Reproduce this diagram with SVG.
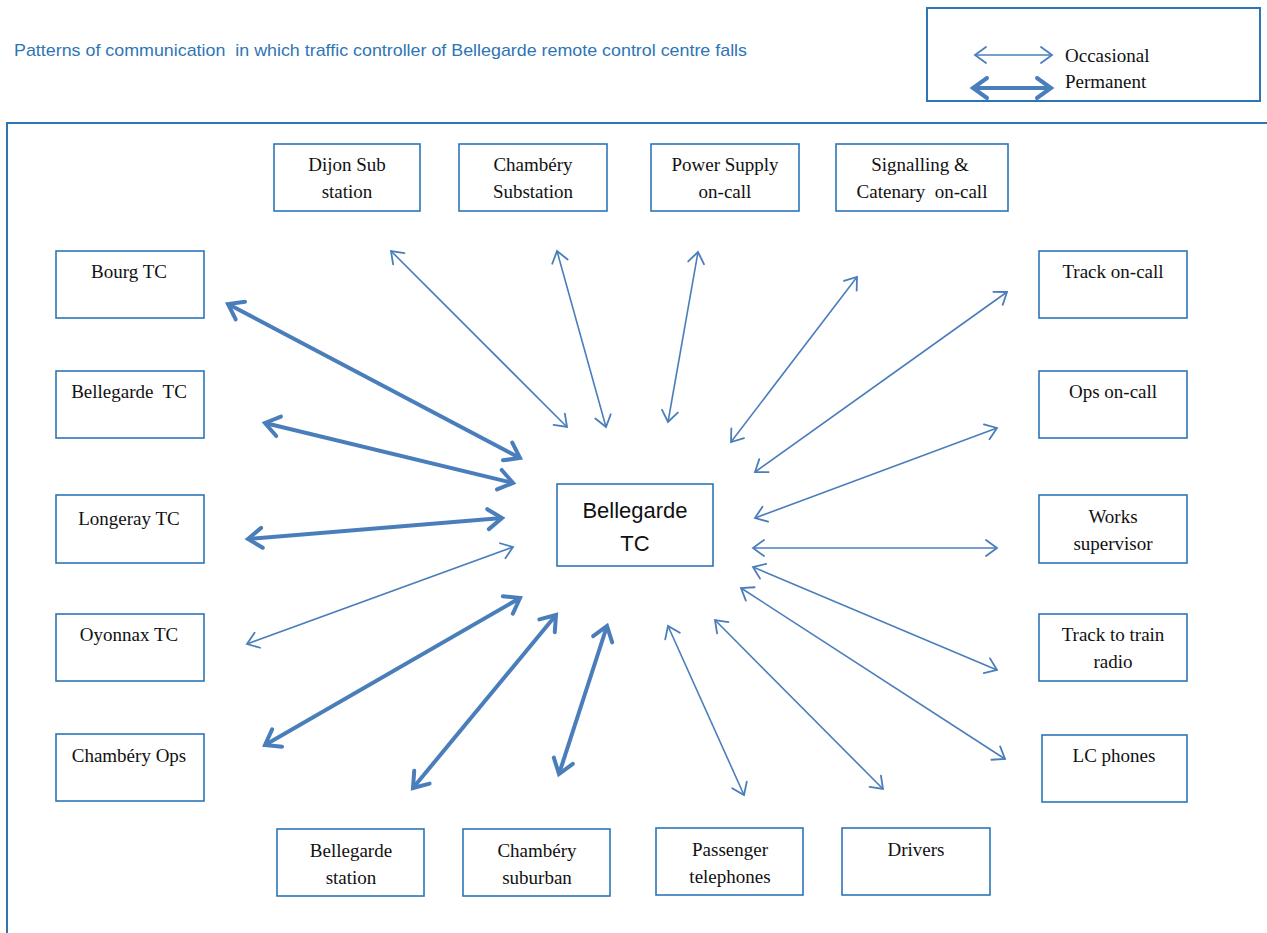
<svg xmlns="http://www.w3.org/2000/svg" width="1267" height="933" viewBox="0 0 1267 933">
<style>
text{white-space:pre}
.node rect{fill:#fff;stroke:#2E75B6;stroke-width:1.6}
.node text{font-family:"Liberation Serif",serif;font-size:19px;fill:#111;text-anchor:middle}
.node text.sans{font-family:"Liberation Sans",sans-serif;font-size:22px}
.thin{stroke:#4A7EBB;stroke-width:1.6;fill:none;marker-start:url(#hs);marker-end:url(#hs)}
.thick{stroke:#4A7EBB;stroke-width:4;fill:none;marker-start:url(#hb);marker-end:url(#hb)}
</style>
<defs>
<marker id="hs" markerUnits="userSpaceOnUse" viewBox="-14 -10 16 20" refX="0" refY="0" markerWidth="16" markerHeight="20" orient="auto-start-reverse" overflow="visible">
<path d="M-11,-8 L0,0 L-11,8" fill="none" stroke="#4A7EBB" stroke-width="1.8" stroke-linecap="round" stroke-linejoin="miter"/>
</marker>
<marker id="hb" markerUnits="userSpaceOnUse" viewBox="-20 -14 22 28" refX="0" refY="0" markerWidth="22" markerHeight="28" orient="auto-start-reverse" overflow="visible">
<path d="M-14,-10 L0,0 L-14,10" fill="none" stroke="#4A7EBB" stroke-width="4" stroke-linecap="round" stroke-linejoin="miter"/>
</marker>
</defs>
<rect width="1267" height="933" fill="#fff"/>
<text x="14" y="56" font-family="'Liberation Sans',sans-serif" font-size="17" fill="#2E75B6" textLength="733" lengthAdjust="spacingAndGlyphs">Patterns of communication  in which traffic controller of Bellegarde remote control centre falls</text>
<g id="legend">
<rect x="927" y="8" width="333" height="93" fill="#fff" stroke="#2E75B6" stroke-width="2"/>
<line class="thin" x1="975" y1="55" x2="1052" y2="55"/>
<line class="thick" x1="973" y1="88" x2="1051" y2="88"/>
<text x="1065" y="62" font-family="'Liberation Serif',serif" font-size="19" fill="#111">Occasional</text>
<text x="1065" y="88" font-family="'Liberation Serif',serif" font-size="19" fill="#111">Permanent</text>
</g>
<path d="M7,933 V123 H1267" fill="none" stroke="#2E75B6" stroke-width="2"/>
<g id="connectors">
<line class="thin" x1="391" y1="251" x2="567" y2="427"/>
<line class="thin" x1="557" y1="251" x2="606" y2="427"/>
<line class="thin" x1="698" y1="252" x2="668" y2="422"/>
<line class="thin" x1="857" y1="277" x2="731" y2="442"/>
<line class="thin" x1="1007" y1="292" x2="755" y2="472"/>
<line class="thin" x1="997" y1="428" x2="755" y2="518"/>
<line class="thin" x1="753" y1="548" x2="997" y2="548"/>
<line class="thin" x1="753" y1="567" x2="997" y2="670"/>
<line class="thin" x1="741" y1="588" x2="1005" y2="759"/>
<line class="thin" x1="715" y1="620" x2="883" y2="789"/>
<line class="thin" x1="668" y1="626" x2="744" y2="795"/>
<line class="thin" x1="513" y1="547" x2="247" y2="644"/>
<line class="thick" x1="228" y1="304" x2="520" y2="458"/>
<line class="thick" x1="265" y1="423" x2="513" y2="483"/>
<line class="thick" x1="248" y1="539" x2="502" y2="518"/>
<line class="thick" x1="265" y1="745" x2="520" y2="598"/>
<line class="thick" x1="413" y1="788" x2="556" y2="615"/>
<line class="thick" x1="559" y1="774" x2="607" y2="626"/>
</g>
<g id="center" class="node">
<rect x="557" y="484" width="156" height="82"/>
<text class="sans" x="635" y="518">Bellegarde</text>
<text class="sans" x="635" y="551">TC</text>
</g>
<g id="dijon" class="node"><rect x="274" y="144" width="146" height="67"/><text x="347" y="171">Dijon Sub</text><text x="347" y="198">station</text></g>
<g id="chambery-substation" class="node"><rect x="459" y="144" width="148" height="67"/><text x="533" y="171">Chambéry</text><text x="533" y="198">Substation</text></g>
<g id="power-supply" class="node"><rect x="651" y="144" width="148" height="67"/><text x="725" y="171">Power Supply</text><text x="725" y="198">on-call</text></g>
<g id="signalling" class="node"><rect x="836" y="144" width="172" height="67"/><text x="920" y="171">Signalling &amp;</text><text x="922" y="198">Catenary  on-call</text></g>
<g id="bourg" class="node"><rect x="56" y="251" width="148" height="67"/><text x="129" y="278">Bourg TC</text></g>
<g id="bellegarde-tc-left" class="node"><rect x="56" y="371" width="148" height="67"/><text x="129" y="398">Bellegarde  TC</text></g>
<g id="longeray" class="node"><rect x="56" y="495" width="148" height="68"/><text x="129" y="525">Longeray TC</text></g>
<g id="oyonnax" class="node"><rect x="56" y="614" width="148" height="67"/><text x="129" y="641">Oyonnax TC</text></g>
<g id="chambery-ops" class="node"><rect x="56" y="734" width="148" height="67"/><text x="129" y="762">Chambéry Ops</text></g>
<g id="track-on-call" class="node"><rect x="1039" y="251" width="148" height="67"/><text x="1113" y="278">Track on-call</text></g>
<g id="ops-on-call" class="node"><rect x="1039" y="371" width="148" height="67"/><text x="1113" y="398">Ops on-call</text></g>
<g id="works" class="node"><rect x="1039" y="495" width="148" height="68"/><text x="1113" y="523">Works</text><text x="1113" y="550">supervisor</text></g>
<g id="track-to-train" class="node"><rect x="1039" y="614" width="148" height="67"/><text x="1113" y="641">Track to train</text><text x="1113" y="668">radio</text></g>
<g id="lc-phones" class="node"><rect x="1042" y="735" width="145" height="67"/><text x="1114" y="762">LC phones</text></g>
<g id="bellegarde-station" class="node"><rect x="277" y="829" width="147" height="67"/><text x="351" y="857">Bellegarde</text><text x="351" y="884">station</text></g>
<g id="chambery-suburban" class="node"><rect x="463" y="829" width="147" height="67"/><text x="537" y="857">Chambéry</text><text x="537" y="884">suburban</text></g>
<g id="passenger" class="node"><rect x="656" y="828" width="147" height="67"/><text x="730" y="856">Passenger</text><text x="730" y="883">telephones</text></g>
<g id="drivers" class="node"><rect x="842" y="828" width="148" height="67"/><text x="916" y="856">Drivers</text></g>
</svg>
